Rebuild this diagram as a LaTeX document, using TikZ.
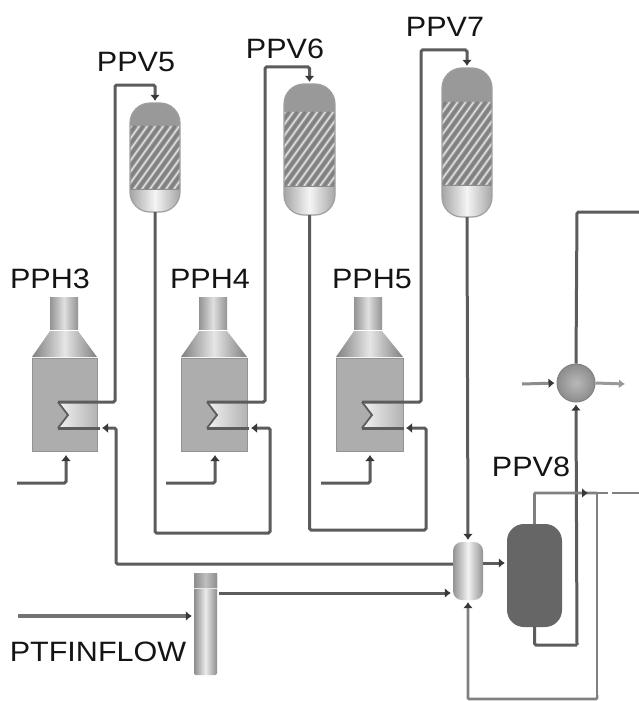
\documentclass[tikz,border=0pt]{standalone}
\usepackage{fontspec}
\setmainfont{Liberation Sans}
\usetikzlibrary{arrows.meta,calc}
\definecolor{pipec}{gray}{0.36}
\definecolor{midc}{gray}{0.50}
\definecolor{domec}{gray}{0.60}
\definecolor{bodyc}{gray}{0.68}
\tikzset{
  x=1pt,y=-1pt,
  pipe/.style={draw=pipec,line width=3pt,rounded corners=1.5pt},
  thinpipe/.style={draw=midc,line width=2.6pt,rounded corners=1pt},
  arr/.style={-{Latex[length=6pt,width=10pt,color=black!78]},shorten >=2pt},
  lab/.style={font=\fontsize{28}{30}\selectfont,text=black!92,inner sep=0pt,xscale=1.09},
  shine/.style={left color=gray!70,right color=gray!70,middle color=gray!8},
}
% name, x left, x right, top, dome end, hatch end, bottom
\newcommand{\vesselpic}[7]{%
  \begin{scope}
    \clip[rounded corners=20pt] (#2,#4) rectangle (#3,#7);
    \fill[domec] (#2,#4) rectangle (#3,#5);
    \fill[gray!80] (#2,#5) rectangle (#3,#6);
    \foreach \k in {-14,...,16}{
      \draw[color=gray!100,line width=2.6pt]
        ({#2+\k*8},#6) -- ({#2+\k*8+(#6-#5)*0.72},#5);
      \draw[color=gray!25,line width=1.4pt]
        ({#2+\k*8+4},#6) -- ({#2+\k*8+4+(#6-#5)*0.72},#5);
    }
    \shade[shine] (#2,#6) rectangle (#3,#7);
    \draw[gray!90,line width=1pt] (#2,#6) -- (#3,#6);
  \end{scope}
  \draw[gray!75,line width=1.2pt,rounded corners=20pt] (#2,#4) rectangle (#3,#7);
  \node[inner sep=0pt,minimum width=#3pt-#2pt,minimum height=#7pt-#4pt] (#1) at ({(#2+#3)/2},{(#4+#7)/2}) {};
}
% name, x offset, width of body
\newcommand{\furnacepic}[3]{%
  \begin{scope}[xshift=#2pt]
    \shade[left color=gray!85,right color=gray!85,middle color=gray!25] (50,297) rectangle (78,329);
    \shade[left color=gray!100,right color=gray!100,middle color=gray!20] (50,331) -- (78,331) -- (32+#3,357) -- (32,357) -- cycle;
    \fill[bodyc] (32,358) rectangle (32+#3,451);
    \draw[gray!85,line width=1pt] (32,358) rectangle (32+#3,451);
    \node[inner sep=0pt,minimum width=#3pt,minimum height=93pt] (#1) at (32+#3/2,404.5) {};
    \shade[left color=gray!10,right color=gray!60] (58,402) -- (32+#3,402) -- (32+#3,428) -- (58,428) -- (68,415) -- cycle;
    \draw[pipec,line width=1.8pt] (58,402) -- (68,415) -- (58,428);
    \coordinate (#1top) at (58,402);
    \coordinate (#1bot) at (58,428);
    \coordinate (#1air) at (66,451);
    \coordinate (#1airin) at (17,483);
  \end{scope}
}
\begin{document}
\begin{tikzpicture}
\useasboundingbox (0,0) rectangle (639,701);
\fill[white] (0,0) rectangle (639,701);

% furnaces
\furnacepic{pph3}{0}{65}
\furnacepic{pph4}{149}{66}
\furnacepic{pph5}{304}{67}

% reactors
\vesselpic{ppv5}{130}{180}{103}{126}{189}{212}
\vesselpic{ppv6}{284}{335}{84}{112}{186}{215}
\vesselpic{ppv7}{442}{492}{68}{102}{185}{217}

% separators
\begin{scope}
  \shade[left color=gray!85,right color=gray!85,middle color=gray!10,rounded corners=9pt] (453,542) rectangle (483,600);
  \node[inner sep=0pt,minimum width=30pt,minimum height=58pt] (mix) at (468,571) {};
  \fill[black!60,rounded corners=17pt] (507,524) rectangle (562,627);
  \node[inner sep=0pt,minimum width=55pt,minimum height=103pt] (ppv8) at (534.5,575.5) {};
  \shade[left color=gray!90,right color=gray!90,middle color=gray!15,rounded corners=2pt] (194,573) rectangle (217,675);
  \shade[left color=gray!90,right color=gray!90,middle color=gray!50] (194,573) rectangle (217,587);
  \draw[gray!20,line width=1pt] (194,588) -- (217,588);
  \node[inner sep=0pt,minimum width=23pt,minimum height=102pt] (ptf) at (205.5,624) {};
  \node[circle,inner sep=0pt,minimum size=38pt,draw=gray!100,line width=1pt,
        inner color=gray!55,outer color=gray!90] (hx) at (576,383) {};
\end{scope}

% corner and free-end coordinates
\coordinate (c1) at (115,85);
\coordinate (c2) at (265,67);
\coordinate (c3) at (421,50);
\coordinate (d1b) at (270,533);
\coordinate (d2b) at (426,530);
\coordinate (e1) at (116,564);
\coordinate (pin) at (18,616);
\coordinate (ptfout) at (219,593);
\coordinate (r1) at (468,699);
\coordinate (r2) at (597,699);
\coordinate (r3) at (597,493);
\coordinate (o1) at (535,493);
\coordinate (b1) at (577,645);
\coordinate (hxtop) at (577,212);
\coordinate (outtop) at (639,212);
\coordinate (outrt) at (639,493);
\coordinate (hxinL) at (522,384);
\coordinate (hxoutR) at (625,384);
\coordinate (gapA) at (590,493);
\coordinate (gapB) at (608,493);

% outlets of furnaces to reactors
\draw[pipe,arr] (pph3top) -| (c1) -| (ppv5.north);
\draw[pipe,arr] (pph4top) -| (c2) -| (ppv6.north);
\draw[pipe,arr] (pph5top) -| (c3) -| (ppv7.north);

% reactor bottoms to next furnace
\draw[pipe,arr] (ppv5.south) |- (d1b) |- ($(pph4bot)+(42,0)$);
\draw[pipe] ($(pph4bot)+(42,0)$) -- (pph4bot);
\draw[pipe,arr] (ppv6.south) |- (d2b) |- ($(pph5bot)+(42,0)$);
\draw[pipe] ($(pph5bot)+(42,0)$) -- (pph5bot);
\draw[pipe,arr] (ppv7.south) -- (mix.north);

% return to first furnace
\draw[pipe,arr] (mix.west |- e1) -| ($(pph3bot)+(58,0)$) -- ($(pph3bot)+(42,0)$);
\draw[pipe] ($(pph3bot)+(42,0)$) -- (pph3bot);

% furnace air
\draw[pipe,arr,shorten >=4pt] (pph3airin) -| (pph3air);
\draw[pipe,arr,shorten >=4pt] (pph4airin) -| (pph4air);
\draw[pipe,arr,shorten >=4pt] (pph5airin) -| (pph5air);

% feed
\draw[color=black!55,line width=3.6pt,arr] (pin) -- (ptf.west |- pin);
\draw[pipe,arr] (ptfout) -- (mix.west |- ptfout);
\draw[pipe,arr] (mix.east |- 0,563) -- (ppv8.west |- 0,563);

% right side
\draw[pipe] (ppv8.south) |- (b1);
\draw[pipe,arr] (b1) -- (hx.south);
\draw[pipe] (hx.north) -- (hxtop) -- (outtop);
\draw[thinpipe] (ppv8.north) |- (o1) -- (r3);
\draw[thinpipe,arr] (o1) -- (gapA);
\draw[thinpipe] (r3) -- (gapB);
\draw[thinpipe] ($(gapB)+(4,0)$) -- (outrt);
\draw[thinpipe,arr] (r2) |- (r1) -- (mix.south);
\draw[thinpipe] (r3) -- (r2);
\draw[draw=black!45,line width=3pt,arr] (hxinL) -- (hx.west);
\draw[draw=black!40,line width=3pt,-{Latex[length=6pt,width=9pt]}] (hx.east) -- (hxoutR);

% labels
\node[lab] (lv5) at (136,62) {PPV5};
\node[lab] (lv6) at (285,49) {PPV6};
\node[lab] (lv7) at (445,27) {PPV7};
\node[lab] (lh3) at (50,279) {PPH3};
\node[lab] (lh4) at (210,279) {PPH4};
\node[lab] (lh5) at (372,279) {PPH5};
\node[lab] (lv8) at (531,467) {PPV8};
\node[lab] (lptf) at (98,652) {PTFINFLOW};
\end{tikzpicture}
\end{document}
